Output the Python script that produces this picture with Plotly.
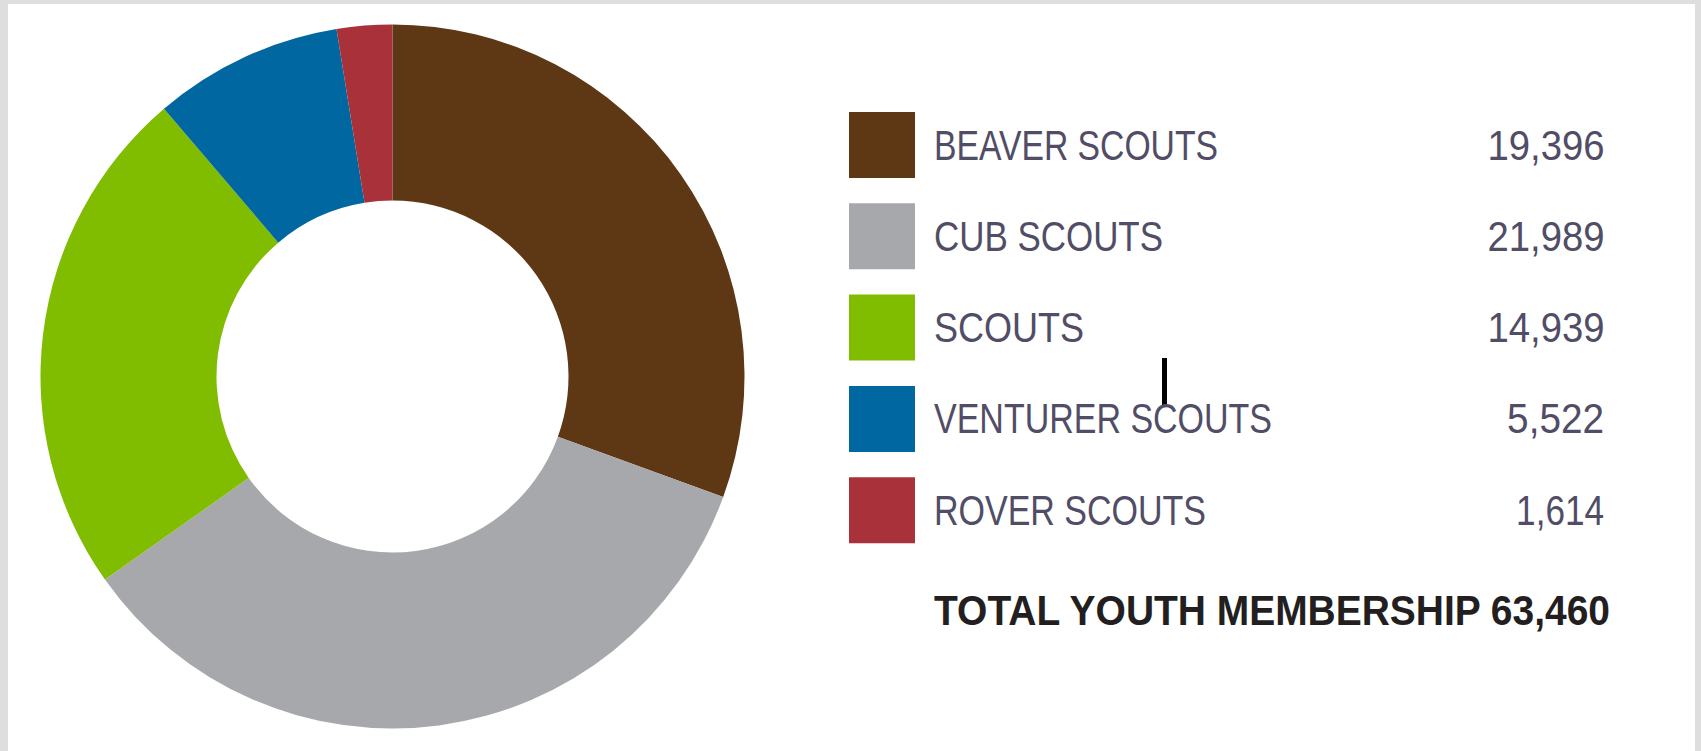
import json
import plotly.graph_objects as go

# ---- data ----
categories = ["BEAVER SCOUTS", "CUB SCOUTS", "SCOUTS", "VENTURER SCOUTS", "ROVER SCOUTS"]
members = [19396, 21989, 14939, 5522, 1614]
value_labels = ["19,396", "21,989", "14,939", "5,522", "1,614"]
total_label = "TOTAL YOUTH MEMBERSHIP 63,460"
colors = ["#5e3714", "#a7a8ab", "#80bc00", "#0067a0", "#a9323a"]

W, H = 1701, 751


def px(x):
    return x / W


def py(y):
    return 1 - y / H


fig = go.Figure()

# donut: center (392.5, 376.5), radius ~352
cx, cy, r = 392.5, 376.5, 352
fig.add_trace(go.Pie(
    labels=categories,
    values=members,
    hole=0.5,
    sort=False,
    direction="clockwise",
    rotation=0,
    marker=dict(colors=colors, line=dict(width=0)),
    textinfo="none",
    hoverinfo="label+value",
    showlegend=False,
    domain=dict(x=[px(cx - r), px(cx + r)], y=[py(cy + r), py(cy - r)]),
))

shapes = []
# light gray frame (left, top, right)
frame_col = "#dedede"
shapes.append(dict(type="rect", xref="paper", yref="paper", x0=0, x1=px(8), y0=0, y1=1,
                   fillcolor=frame_col, line=dict(width=0), layer="below"))
shapes.append(dict(type="rect", xref="paper", yref="paper", x0=0, x1=1, y0=py(4), y1=1,
                   fillcolor=frame_col, line=dict(width=0), layer="below"))
shapes.append(dict(type="rect", xref="paper", yref="paper", x0=px(1695), x1=1, y0=0, y1=1,
                   fillcolor=frame_col, line=dict(width=0), layer="below"))

annotations = []
squeeze = []  # target rendered widths (condensed look), same order as annotations
label_w = [284, 229, 150, 338, 272]
value_w = [117, 117, 117, 97, 88]
row_top0, row_step, sq = 112, 91.3, 66
sq_x0 = 849
label_font = dict(family="Liberation Sans, Arial, sans-serif", size=42, color="#514d66")
for i, (cat, val, col) in enumerate(zip(categories, value_labels, colors)):
    top = row_top0 + i * row_step
    shapes.append(dict(type="rect", xref="paper", yref="paper",
                       x0=px(sq_x0), x1=px(sq_x0 + sq), y0=py(top + sq), y1=py(top),
                       fillcolor=col, line=dict(width=0)))
    yc = top + sq / 2
    annotations.append(dict(xref="paper", yref="paper", x=px(933), y=py(yc),
                            xanchor="left", yanchor="middle", align="left", showarrow=False,
                            text=cat, font=label_font, borderpad=0))
    squeeze.append(label_w[i])
    annotations.append(dict(xref="paper", yref="paper", x=px(1605), y=py(yc),
                            xanchor="right", yanchor="middle", align="right", showarrow=False,
                            text=val, font=label_font, borderpad=0))
    squeeze.append(value_w[i])

annotations.append(dict(xref="paper", yref="paper", x=px(933), y=py(610),
                        xanchor="left", yanchor="middle", align="left", showarrow=False,
                        text="<b>" + total_label + "</b>", borderpad=0,
                        font=dict(family="Liberation Sans, Arial, sans-serif",
                                  size=42, color="#231f20")))
squeeze.append(676)

# small vertical black mark
shapes.append(dict(type="line", xref="paper", yref="paper",
                   x0=px(1164.5), x1=px(1164.5), y0=py(405), y1=py(358),
                   line=dict(color="#000000", width=5)))

fig.update_layout(
    width=W, height=H,
    margin=dict(l=0, r=0, t=0, b=0),
    paper_bgcolor="#ffffff",
    plot_bgcolor="#ffffff",
    shapes=shapes,
    annotations=annotations,
)

post = """
document.body.style.margin = '0';
document.body.style.overflow = 'hidden';
document.documentElement.style.overflow = 'hidden';
var gd = document.getElementById('{plot_id}');
var widths = %s;
widths.forEach(function(w, i) {
  var t = gd.querySelector('g.annotation[data-index="' + i + '"] text.annotation-text');
  if (t && w) {
    t.setAttribute('textLength', w);
    t.setAttribute('lengthAdjust', 'spacingAndGlyphs');
  }
});
""" % json.dumps(squeeze)

fig.write_html("out.html", post_script=post, config={"displayModeBar": False})
